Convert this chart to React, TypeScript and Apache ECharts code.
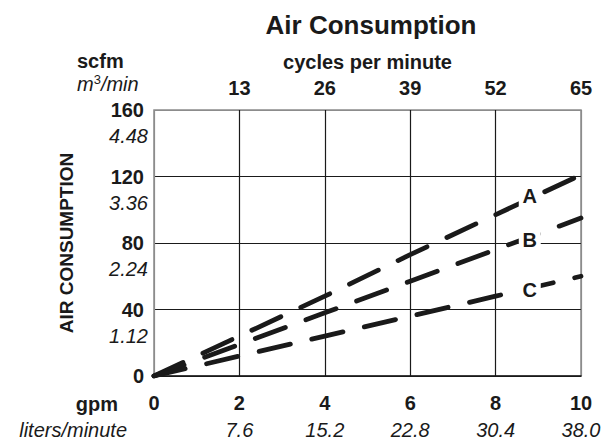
import React, { useEffect, useRef } from "react";
import * as echarts from "echarts";

const gpmTicks = [0, 2, 4, 6, 8, 10];
const litersPerMinute = ["", "7.6", "15.2", "22.8", "30.4", "38.0"];
const cyclesPerMinute = ["", "13", "26", "39", "52", "65"];
const scfmTicks = [0, 40, 80, 120, 160];
const m3PerMin = ["", "1.12", "2.24", "3.36", "4.48"];
const seriesNames = ["A", "B", "C"];
const seriesA = [0, 24, 48, 73, 97, 121];
const seriesB = [0, 19, 38, 57, 76, 95];
const seriesC = [0, 12, 24, 36, 48, 60];

const FONT = "'Liberation Sans', Arial, Helvetica, sans-serif";
const INK = "#1a1a1a";
const BORDER = "#8c8c8c";

export default function App() {
  const ref = useRef<HTMLDivElement>(null);
  useEffect(() => {
    if (!ref.current) return;
    const chart = echarts.init(ref.current, null, { renderer: "svg" });
    const toPairs = (vals: number[]) => gpmTicks.map((x, i) => [x, vals[i]]);
    const lineSeries = (name: string, vals: number[], coord: number[]) => ({
      name,
      type: "line",
      xAxisIndex: 0,
      yAxisIndex: 0,
      data: toPairs(vals),
      showSymbol: false,
      symbol: "none",
      silent: true,
      lineStyle: { color: INK, width: 4.8, type: [32, 22], cap: "round" },
      markPoint: {
        silent: true,
        symbol: "rect",
        symbolSize: [22, 22],
        itemStyle: { color: "#ffffff" },
        label: {
          show: true,
          position: "inside",
          formatter: name,
          color: INK,
          fontFamily: FONT,
          fontWeight: "bold",
          fontSize: 20,
        },
        data: [{ coord }],
      },
    });
    const boldLabel = { color: INK, fontFamily: FONT, fontWeight: "bold", fontSize: 20 };
    const italicLabel = { color: INK, fontFamily: FONT, fontStyle: "italic", fontSize: 20 };
    chart.setOption({
      animation: false,
      title: {
        text: "Air Consumption",
        left: 366,
        top: 7,
        textAlign: "center",
        textStyle: { fontFamily: FONT, fontWeight: "bold", fontSize: 26, color: INK },
      },
      grid: {
        left: 154,
        right: 32,
        top: 110,
        bottom: 67,
        show: true,
        borderColor: BORDER,
        borderWidth: 1.5,
        backgroundColor: "transparent",
      },
      xAxis: [
        {
          type: "value",
          position: "bottom",
          min: 0,
          max: 10,
          interval: 2,
          axisLine: { show: true, lineStyle: { color: INK, width: 1.5 } },
          axisTick: { show: false },
          splitLine: {
            show: true,
            lineStyle: { color: [BORDER, INK, INK, INK, INK, BORDER], width: 1.2 },
          },
          axisLabel: { ...boldLabel, margin: 17, formatter: (v: number) => String(v) },
        },
        {
          type: "value",
          position: "bottom",
          offset: 27,
          min: 0,
          max: 10,
          interval: 2,
          axisLine: { show: false },
          axisTick: { show: false },
          splitLine: { show: false },
          axisLabel: {
            ...italicLabel,
            margin: 17,
            showMaxLabel: true,
            formatter: (v: number) => litersPerMinute[gpmTicks.indexOf(v)] ?? "",
          },
        },
        {
          type: "value",
          position: "top",
          min: 0,
          max: 65,
          interval: 13,
          name: "cycles per minute",
          nameLocation: "middle",
          nameGap: 38,
          nameTextStyle: { fontFamily: FONT, fontWeight: "bold", fontSize: 20, color: INK },
          axisLine: { show: false },
          axisTick: { show: false },
          splitLine: { show: false },
          axisLabel: {
            ...boldLabel,
            margin: 12,
            showMaxLabel: true,
            formatter: (v: number) => cyclesPerMinute[Math.round(v / 13)] ?? "",
          },
        },
      ],
      yAxis: [
        {
          type: "value",
          position: "left",
          min: 0,
          max: 160,
          interval: 40,
          name: "AIR CONSUMPTION",
          nameLocation: "middle",
          nameRotate: 90,
          nameGap: 78,
          nameTextStyle: { fontFamily: FONT, fontWeight: "bold", fontSize: 19, color: INK },
          axisLine: { show: false },
          axisTick: { show: false },
          splitLine: {
            show: true,
            lineStyle: { color: [INK, INK, INK, INK, BORDER], width: 1.2 },
          },
          axisLabel: { ...boldLabel, margin: 10, showMaxLabel: true, formatter: (v: number) => String(v) },
        },
        {
          type: "value",
          position: "left",
          min: 0,
          max: 160,
          interval: 40,
          axisLine: { show: false },
          axisTick: { show: false },
          splitLine: { show: false },
          axisLabel: {
            ...italicLabel,
            margin: 6,
            verticalAlign: "top",
            lineHeight: 52,
            showMaxLabel: true,
            formatter: (v: number) => m3PerMin[scfmTicks.indexOf(v)] ?? "",
          },
        },
      ],
      graphic: [
        {
          type: "text",
          left: 77,
          top: 51,
          style: { text: "scfm", fontFamily: FONT, fontWeight: "bold", fontSize: 20, fill: INK },
        },
        {
          type: "text",
          left: 77,
          top: 73,
          style: {
            text: "{i|m}{s|3}{i|/min}",
            rich: {
              i: { fontFamily: FONT, fontStyle: "italic", fontSize: 20, fill: INK, lineHeight: 22 },
              s: { fontFamily: FONT, fontSize: 13, fill: INK, verticalAlign: "top", lineHeight: 22 },
            },
          },
        },
        {
          type: "text",
          right: 613 - 118,
          top: 394,
          style: { text: "gpm", fontFamily: FONT, fontWeight: "bold", fontSize: 20, fill: INK },
        },
        {
          type: "text",
          right: 613 - 127,
          top: 420,
          style: { text: "liters/minute", fontFamily: FONT, fontStyle: "italic", fontSize: 20, fill: INK },
        },
      ],
      series: [
        lineSeries(seriesNames[0], seriesA, [8.8, 108]),
        lineSeries(seriesNames[1], seriesB, [8.8, 82]),
        lineSeries(seriesNames[2], seriesC, [8.8, 52]),
      ],
    });
    return () => chart.dispose();
  }, []);
  return (
    <div
      ref={ref}
      style={{ position: "fixed", left: 0, top: 0, width: 613, height: 443, background: "#fff" }}
    />
  );
}
